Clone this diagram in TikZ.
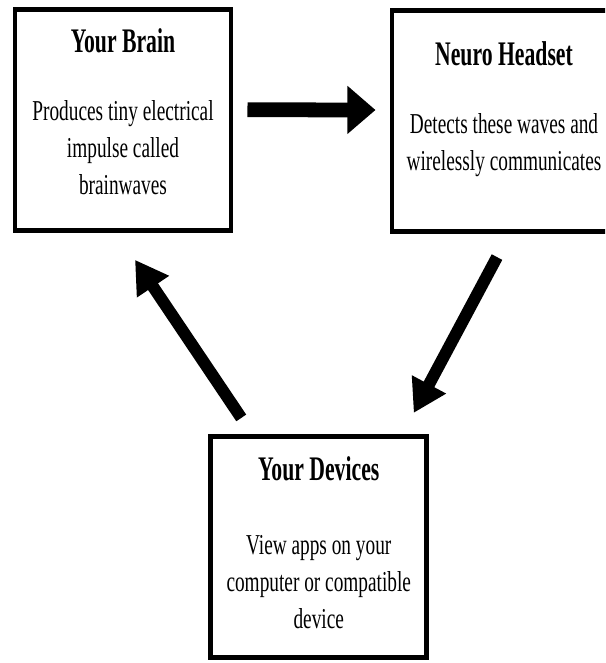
\documentclass[tikz,border=0pt]{standalone}
\usepackage{fontspec}
\newfontfamily\titlefont[FakeStretch=0.63]{Liberation Serif}
\newfontfamily\bodyfont[FakeStretch=0.67]{Liberation Serif}
\usetikzlibrary{arrows.meta, positioning}

\begin{document}
\begin{tikzpicture}[
    x=0.025cm, y=-0.025cm, % one unit is one pixel of the sketch, y runs down
    box/.style={draw, line width=3.5pt, inner sep=0pt, minimum width=5.4cm, minimum height=5.53cm}, % Style for the three boxes
    title/.style={inner sep=0pt, font=\titlefont\bfseries\fontsize{24.5}{28}\selectfont}, % Style for box titles
    body/.style={inner sep=0pt, align=center, font=\bodyfont\fontsize{20.5}{26.3}\selectfont}, % Style for box texts
    flow/.style={line width=10.5pt, -{Triangle[width=33pt, length=20pt]}}, % Style for the straight arrow
    loop/.style={line width=8.5pt, -{Triangle[width=26pt, length=23pt]}} % Style for the slanted arrows
]

    \useasboundingbox (0,0) rectangle (605,663);
    \clip (0,0) rectangle (605,663);

    % Boxes (the headset box runs off the right edge)
    \node[box] (brain) at (123,119.75) {};
    \node[box, minimum width=5.6cm] (headset) at (504,121) {};
    \node[box] (devices) at (318.75,547) {};

    % Titles
    \node[title, anchor=base] (brainTitle) at ([yshift=-1.14cm]brain.north) {Your Brain};
    \node[title, anchor=base] (headsetTitle) at ([yshift=-1.45cm]headset.north) {Neuro Headset};
    \node[title, anchor=base] (devicesTitle) at ([yshift=-1.175cm]devices.north) {Your Devices};

    % Texts
    \node[body, below=1.19cm of brainTitle] (brainText) {Produces tiny electrical\\impulse called\\brainwaves};
    \node[body, below=1.16cm of headsetTitle] (headsetText) {Detects these waves and\\wirelessly communicates};
    \node[body, below=1.33cm of devicesTitle] (devicesText) {View apps on your\\computer or compatible\\device};

    % Arrows between the boxes
    \draw[flow] ([shift={(14,-10)}]brain.east) -- ([shift={(-14,-11)}]headset.west);
    \draw[loop] ([shift={(-7,23)}]headset.south) -- ([shift={(-15.5,-21)}]devices.north east);
    \draw[loop] ([shift={(33,-16)}]devices.north west) -- ([shift={(12,27)}]brain.south);

\end{tikzpicture}
\end{document}
